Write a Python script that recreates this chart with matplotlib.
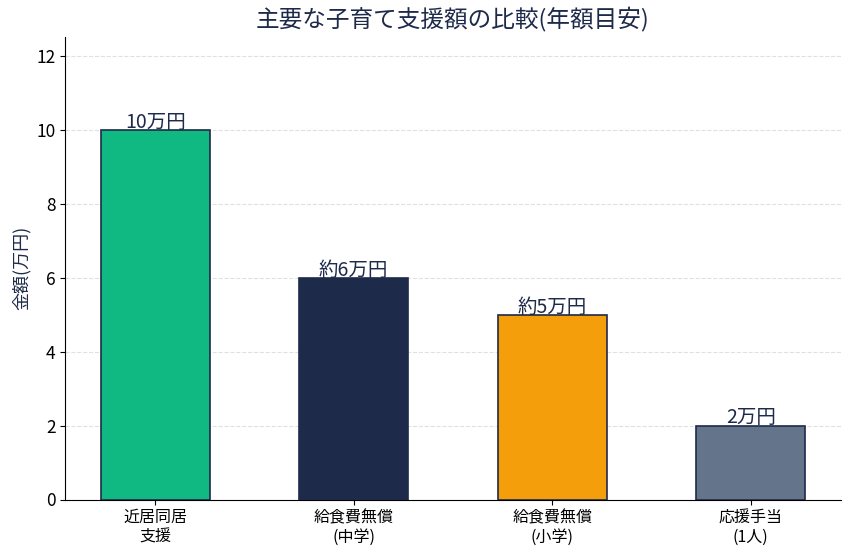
import matplotlib
matplotlib.use("Agg")
import matplotlib.pyplot as plt

plt.rcParams['font.family'] = ['Noto Sans CJK JP', 'DejaVu Sans']

categories = ["近居同居\n支援", "給食費無償\n(中学)", "給食費無償\n(小学)", "応援手当\n(1人)"]
values = [10, 6, 5, 2]
value_labels = ["10万円", "約6万円", "約5万円", "2万円"]
colors = ["#10b981", "#1e2a4a", "#f59e0b", "#64748b"]

navy = "#1e2a4a"

fig, ax = plt.subplots(figsize=(8.49, 5.55), dpi=100)
fig.subplots_adjust(left=0.077, right=0.99, top=0.933, bottom=0.1)

x = range(len(categories))
bars = ax.bar(x, values, width=0.55, color=colors, edgecolor=navy, linewidth=1.2, zorder=3)

for b, lab in zip(bars, value_labels):
    ax.text(b.get_x() + b.get_width() / 2, b.get_height() - 0.08, lab,
            ha="center", va="bottom", fontsize=14, color=navy, zorder=4)

ax.set_xticks(list(x))
ax.set_xticklabels(categories, fontsize=11.5)
ax.set_ylim(0, 12.5)
ax.set_yticks([0, 2, 4, 6, 8, 10, 12])
ax.tick_params(axis="y", labelsize=12.5)
ax.set_ylabel("金額(万円)", fontsize=13, color=navy)
ax.set_title("主要な子育て支援額の比較(年額目安)", fontsize=17, color=navy, pad=8)

ax.grid(axis="y", linestyle="--", color="#dddddd", alpha=0.9, zorder=0)
ax.spines["top"].set_visible(False)
ax.spines["right"].set_visible(False)

fig.savefig("out.png", dpi=100)
